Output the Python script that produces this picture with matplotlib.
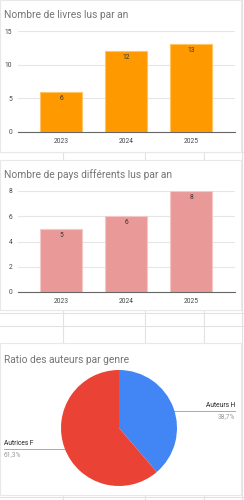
import matplotlib
matplotlib.use("Agg")
import matplotlib.pyplot as plt
from matplotlib.patches import Rectangle

plt.rcParams['font.family'] = ['Roboto', 'DejaVu Sans']

annees = ["2023", "2024", "2025"]
livres = [6, 12, 13]
pays = [5, 6, 8]
genres = ["Auteurs H", "Autrices F"]
ratio = [38.7, 61.3]

W, H = 244, 500
fig = plt.figure(figsize=(W / 100, H / 100), dpi=100)
fig.patch.set_facecolor("white")


def px(x0, y0, x1, y1):
    # pixel box (top-left origin) -> figure fraction
    return [x0 / W, 1 - y1 / H, (x1 - x0) / W, (y1 - y0) / H]


# spreadsheet grid behind the charts
bg = fig.add_axes([0, 0, 1, 1])
bg.set_xlim(0, W)
bg.set_ylim(H, 0)
bg.axis("off")
for x in [63, 145, 204, 242]:
    bg.plot([x, x], [0, H], color="#e2e2e2", lw=0.8)
for y in [152, 313, 326, 497]:
    bg.plot([0, W], [y, y], color="#e2e2e2", lw=0.8)
for y0, y1 in [(0, 152), (160, 310), (343, 495)]:
    bg.add_patch(Rectangle((0, y0), 241, y1 - y0, facecolor="white",
                           edgecolor="#e8e8e8", lw=0.8, zorder=3))

titre_kw = dict(fontsize=7.4, color="#757575", ha="left", va="center")
fig.text(4 / W, 1 - 15 / H, "Nombre de livres lus par an", **titre_kw)
fig.text(4 / W, 1 - 175 / H, "Nombre de pays différents lus par an", **titre_kw)
fig.text(4 / W, 1 - 360 / H, "Ratio des auteurs par genre", **titre_kw)


def barres(box, valeurs, ymax, pas, couleur, bord):
    ax = fig.add_axes(box)
    ax.set_facecolor("none")
    pos = range(len(annees))
    bars = ax.bar(pos, valeurs, width=0.645, color=couleur, edgecolor=bord,
                  lw=0.8, zorder=3)
    for b, v in zip(bars, valeurs):
        ax.text(b.get_x() + b.get_width() / 2, v - ymax * 0.03, str(v),
                ha="center", va="top", fontsize=4.8, color="#333333", zorder=4)
    ax.set_xlim(-0.66, 2.67)
    ax.set_ylim(0, ymax)
    ax.set_yticks(range(0, ymax + 1, pas))
    ax.set_xticks(list(pos))
    ax.set_xticklabels(annees)
    ax.tick_params(length=0, labelsize=4.8, labelcolor="#444444", pad=4)
    ax.grid(axis="y", color="#e6e6e6", lw=0.8, zorder=0)
    for s in ["top", "right", "left"]:
        ax.spines[s].set_visible(False)
    ax.spines["bottom"].set_color("#666666")
    ax.spines["bottom"].set_linewidth(0.8)
    ax.spines["bottom"].set_zorder(5)
    return ax


barres(px(18, 31, 235, 132), livres, 15, 5, "#ff9900", "#ffc266")
barres(px(18, 191, 235, 292), pays, 8, 2, "#ea9999", "#f4c7c7")

# camembert
cx, cy, r = 119, 428, 58
axp = fig.add_axes(px(cx - r, cy - r, cx + r, cy + r))
axp.pie(ratio, colors=["#4285f4", "#ea4335"], startangle=90,
        counterclock=False, radius=1)
axp.set_xlim(-1, 1)
axp.set_ylim(-1, 1)
axp.set_aspect("equal")

bg.set_zorder(0)
axp.set_zorder(2)
# leader lines and labels
bg.plot([171, 235], [411, 411], color="#aaaaaa", lw=0.7, zorder=4)
bg.plot([171], [411], marker="o", ms=1.2, color="#999999", zorder=4)
bg.plot([4, 67], [449, 449], color="#aaaaaa", lw=0.7, zorder=4)
bg.plot([67], [449], marker="o", ms=1.2, color="#999999", zorder=4)
lab_kw = dict(fontsize=4.8, zorder=4)
bg.text(235, 409, genres[0], ha="right", va="bottom", color="#222222", **lab_kw)
bg.text(235, 413, f"{ratio[0]:.1f}%".replace(".", ","), ha="right", va="top",
        color="#999999", **lab_kw)
bg.text(4, 447, genres[1], ha="left", va="bottom", color="#222222", **lab_kw)
bg.text(4, 451, f"{ratio[1]:.1f}%".replace(".", ","), ha="left", va="top",
        color="#999999", **lab_kw)

fig.savefig("out.png", dpi=100)
